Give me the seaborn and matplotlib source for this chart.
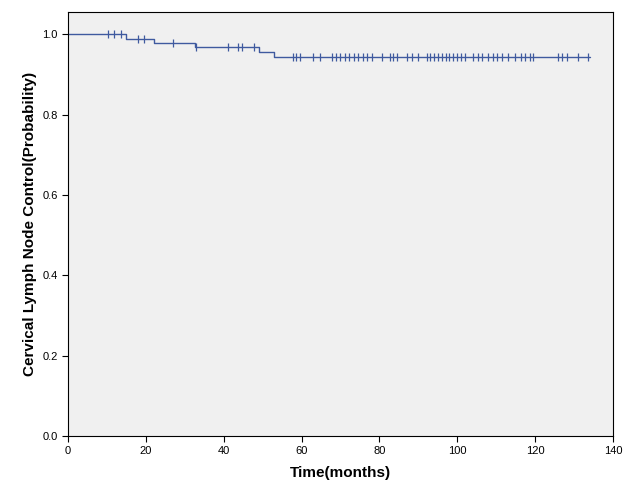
import numpy as np
import pandas as pd
import matplotlib
matplotlib.use("Agg")
import matplotlib.pyplot as plt
import seaborn as sns

# Step points of the survival curve (months, probability)
step_times = [0, 15.0, 22.0, 32.5, 49.0, 53.0, 134.0]
step_surv = [1.0, 0.989, 0.978, 0.967, 0.956, 0.943, 0.943]

# Censored observations (months)
censor_times = [10.2, 11.9, 13.6, 17.9, 19.6, 27.1, 33.0, 41.0, 43.8, 44.8,
                47.9, 57.9, 58.7, 59.6, 63.0, 64.7, 67.7, 68.8, 70.0, 71.1,
                72.2, 73.4, 74.6, 75.9, 76.8, 78.0, 80.6, 82.7, 83.6, 84.4,
                87.0, 88.3, 90.0, 92.1, 93.0, 94.0, 95.0, 96.0, 97.0, 98.0,
                99.0, 100.0, 101.0, 102.0, 104.0, 105.2, 106.3, 108.0, 109.2,
                110.3, 111.5, 113.0, 114.8, 116.4, 117.4, 118.7, 119.5, 126.0,
                126.8, 128.1, 131.1, 133.6]

line_color = "#3F5A9F"

curve = pd.DataFrame({"time": step_times, "surv": step_surv})
# survival level at each censor time (value of the step curve)
idx = np.searchsorted(step_times, censor_times, side="right") - 1
cens = pd.DataFrame({"time": censor_times, "surv": np.array(step_surv)[idx]})

sns.set_style("white")
plt.rcParams["font.family"] = ["Liberation Sans", "DejaVu Sans"]
plt.rcParams["text.color"] = "black"
plt.rcParams["axes.labelcolor"] = "black"

fig = plt.figure(figsize=(6.26, 5.01), dpi=100)
ax = fig.add_axes([0.1086, 0.1297, 0.8706, 0.8463])
ax.set_facecolor("#F0F0F0")

sns.lineplot(data=curve, x="time", y="surv", ax=ax, estimator=None, sort=False,
             drawstyle="steps-post", color=line_color, linewidth=1)
sns.scatterplot(data=cens, x="time", y="surv", ax=ax, marker="|", s=40,
                linewidth=0.9, color=line_color, zorder=3)

ax.set_xlim(0, 140)
ax.set_ylim(0, 1.055)
ax.set_xticks(range(0, 141, 20))
ax.set_yticks([0.0, 0.2, 0.4, 0.6, 0.8, 1.0])
ax.set_yticklabels(["0.0", "0.2", "0.4", "0.6", "0.8", "1.0"])
ax.tick_params(axis="both", direction="out", length=4, width=0.8,
               labelsize=8, colors="black", bottom=True, left=True)

for s in ax.spines.values():
    s.set_color("black")
    s.set_linewidth(0.8)

ax.set_xlabel("Time(months)", fontsize=11, fontweight="bold", labelpad=7)
ax.set_ylabel("Cervical Lymph Node Control(Probability)", fontsize=11,
              fontweight="bold", labelpad=4)

fig.savefig("out.png", dpi=100)
